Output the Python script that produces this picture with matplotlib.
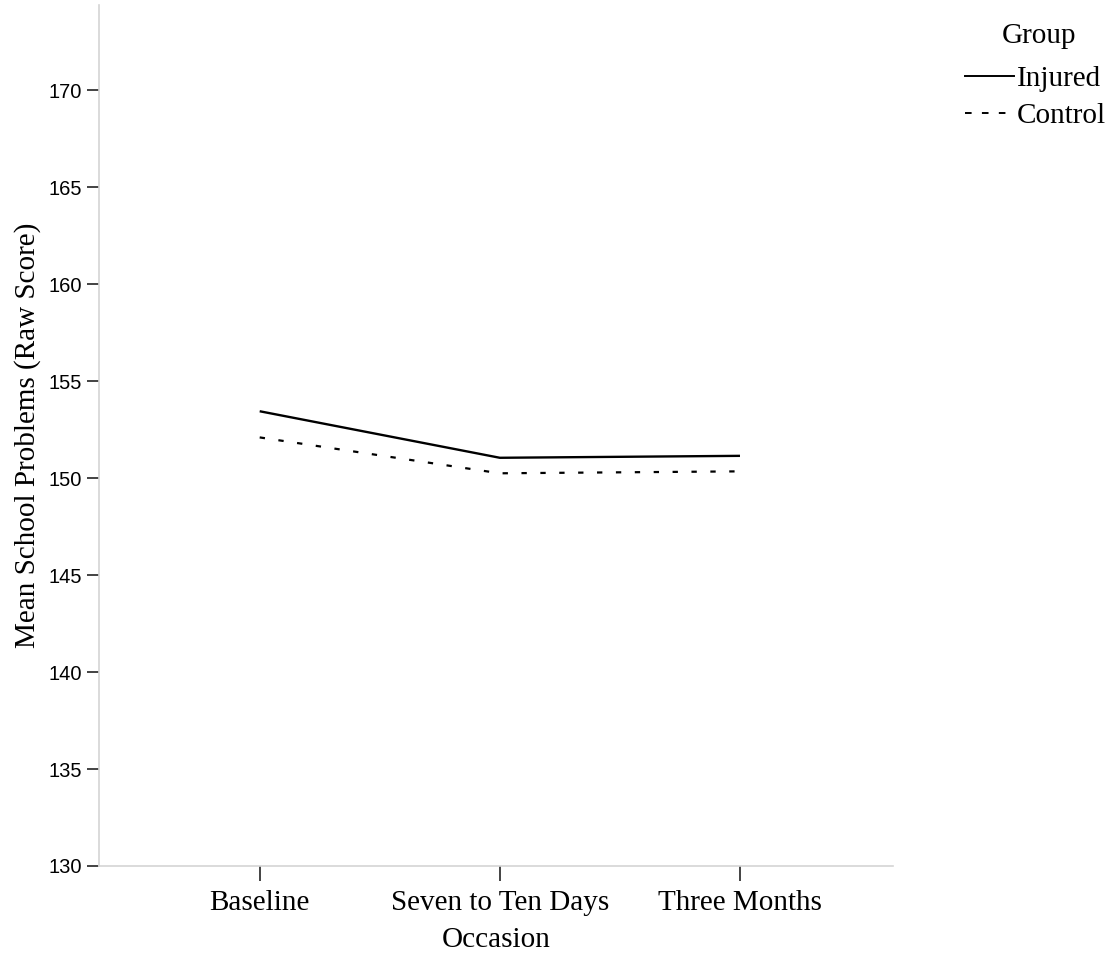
# Mean school problems by occasion and group
import matplotlib
matplotlib.use('Agg')
import matplotlib.pyplot as plt
from matplotlib.lines import Line2D

occasions = ['Baseline', 'Seven to Ten Days', 'Three Months']
injured = [153.45, 151.05, 151.15]
control = [152.1, 150.25, 150.35]
y_ticks = [130, 135, 140, 145, 150, 155, 160, 165, 170]

serif = 'Liberation Serif'
sans = 'Liberation Sans'

fig = plt.figure(figsize=(11.19, 9.55), dpi=100)
ax = fig.add_axes([0.0885, 0.0932, 0.7095, 0.9016])

x = range(len(occasions))
ax.plot(x, injured, color='black', lw=1.7, solid_capstyle='butt')
ax.plot(x, control, color='black', lw=1.6, linestyle=(0, (2.4, 6.1)))

ax.set_xlim(-0.669, 2.637)
ax.set_ylim(130, 174.4)
ax.set_xticks(list(x))
ax.set_xticklabels(occasions, fontfamily=serif, fontsize=21)
ax.set_yticks(y_ticks)
ax.set_yticklabels([str(v) for v in y_ticks], fontfamily=sans, fontsize=14.5)

for side in ['top', 'right']:
    ax.spines[side].set_visible(False)
for side in ['left', 'bottom']:
    ax.spines[side].set_color('#d4d4d4')
    ax.spines[side].set_linewidth(1.2)

ax.tick_params(axis='y', length=9, width=1.2, color='#222222', pad=3)
ax.tick_params(axis='x', length=11, width=1.2, color='#222222', pad=6)

ax.set_xlabel('Occasion', fontfamily=serif, fontsize=21, labelpad=8)
ax.set_ylabel('Mean School Problems (Raw Score)', fontfamily=serif, fontsize=21, labelpad=6)

# legend title drawn separately so its gap to the entries can be set
fig.text(0.9285, 0.962, 'Group', family=serif, size=21, ha='center', va='center')
handles = [
    Line2D([], [], color='black', lw=1.4),
    Line2D([], [], color='black', lw=1.4, linestyle=(0, (3.4, 5.3))),
]
fig.legend(handles, ['Injured', 'Control'],
           loc='upper left', bbox_to_anchor=(0.862, 0.931),
           frameon=False, handlelength=1.7, handletextpad=0.1,
           labelspacing=0.35, borderpad=0, borderaxespad=0,
           prop={'family': serif, 'size': 21})

fig.savefig('out.png', dpi=100)
